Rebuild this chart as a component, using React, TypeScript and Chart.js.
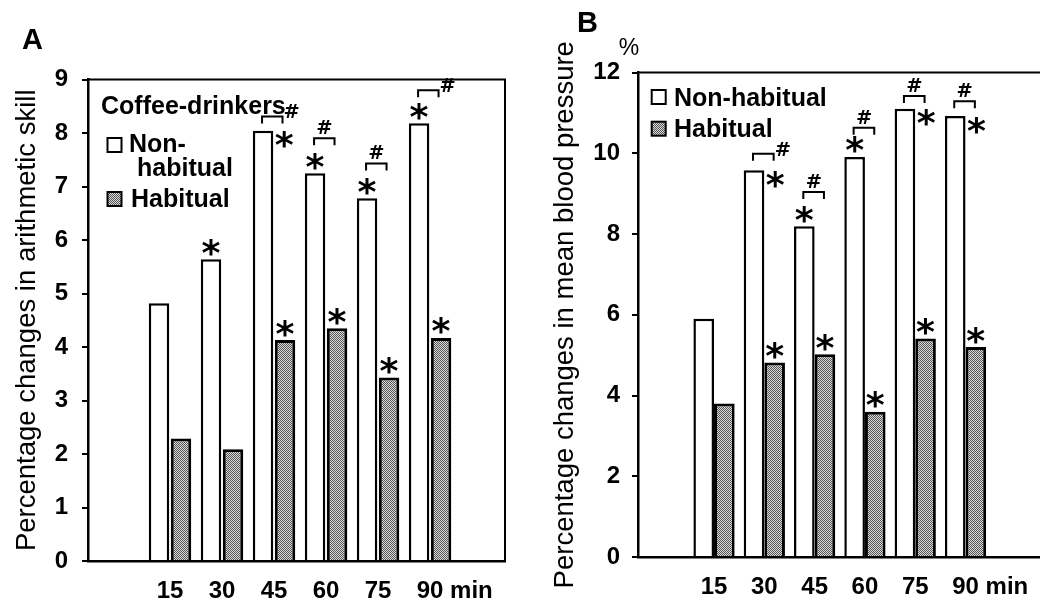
import React, { useEffect, useRef } from 'react';
import { Chart, registerables } from 'chart.js';

Chart.register(...registerables);

const FONT = '"Liberation Sans", Arial, Helvetica, sans-serif';
const STAR_FONT = '"DejaVu Sans", "Liberation Sans", sans-serif';
const TICK_SIZE = 24;

// ---------- data ----------
const minutes = [15, 30, 45, 60, 75, 90];
const xUnit = 'min';
const seriesNames = ['Non-habitual', 'Habitual'];
const legendTitleA = 'Coffee-drinkers';

const skillTitle = 'Percentage changes in arithmetic skill';
const skillNonHabitual = [4.82, 5.64, 8.04, 7.25, 6.78, 8.18];
const skillHabitual = [2.29, 2.09, 4.13, 4.35, 3.43, 4.17];
const skillTicks = [0, 1, 2, 3, 4, 5, 6, 7, 8, 9];
const skillStarsNon = ['', 'top', 'right', 'top', 'top', 'top'];
const skillStarsHab = ['', '', 'top', 'top', 'top', 'top'];
const skillBracketLevel: (number | null)[] = [null, null, 8.31, 7.9, 7.43, 8.8];
const skillHashPos = ['', '', 'right', 'top', 'top', 'right'];

const pressureTitle = 'Percentage changes in mean blood pressure';
const pressureNonHabitual = [5.9, 9.58, 8.19, 9.91, 11.1, 10.92];
const pressureHabitual = [3.8, 4.82, 5.02, 3.6, 5.41, 5.2];
const pressureTicks = [0, 2, 4, 6, 8, 10, 12];
const pressureStarsNon = ['', 'right', 'top', 'top', 'right', 'right'];
const pressureStarsHab = ['', 'top', 'top', 'top', 'top', 'top'];
const pressureBracketLevel: (number | null)[] = [null, 9.99, 9.04, 10.63, 11.42, 11.29];
const pressureHashPos = ['', 'right', 'top', 'top', 'top', 'top'];

// ---------- panel layout ----------
interface Panel {
  letter: string;
  letterX: number;
  letterY: number;
  yTitle: string;
  yMax: number;
  yTicks: number[];
  xMin: number;
  xMax: number;
  non: number[];
  hab: number[];
  starsNon: string[];
  starsHab: string[];
  bracket: (number | null)[];
  hash: string[];
  chartTop: number;
  padRight: number;
  yAxisWidth: number;
  xAxisHeight: number;
  yTitlePad: number;
  yTickPad: number;
  xTickPad: number;
  catPct: number;
  barPct: number;
  frameRight: boolean;
  percent: boolean;
  legend: { title: string | null; titleX: number; titleY: number; sqX: number; sqNonY: number; sqHabY: number; nonLines: { t: string; x: number; y: number }[]; habX: number; habY: number };
}

const panelA: Panel = {
  letter: 'A', letterX: 22, letterY: 38.5,
  yTitle: skillTitle, yMax: 9, yTicks: skillTicks,
  xMin: -8.65, xMax: 111.6,
  non: skillNonHabitual, hab: skillHabitual,
  starsNon: skillStarsNon, starsHab: skillStarsHab,
  bracket: skillBracketLevel, hash: skillHashPos,
  chartTop: 79.5, padRight: 15, yAxisWidth: 88, xAxisHeight: 40,
  yTitlePad: 11, yTickPad: 14, xTickPad: 16.2,
  catPct: 0.846, barPct: 0.93, frameRight: true, percent: false,
  legend: {
    title: legendTitleA, titleX: 101, titleY: 105,
    sqX: 107.5, sqNonY: 138, sqHabY: 192,
    nonLines: [{ t: 'Non-', x: 129, y: 143 }, { t: 'habitual', x: 137, y: 167 }],
    habX: 131, habY: 198,
  },
};

const panelB: Panel = {
  letter: 'B', letterX: 57, letterY: 22,
  yTitle: pressureTitle, yMax: 12, yTicks: pressureTicks,
  xMin: -7.67, xMax: 112.2,
  non: pressureNonHabitual, hab: pressureHabitual,
  starsNon: pressureStarsNon, starsHab: pressureStarsHab,
  bracket: pressureBracketLevel, hash: pressureHashPos,
  chartTop: 72.5, padRight: 0, yAxisWidth: 118, xAxisHeight: 44,
  yTitlePad: 29, yTickPad: 12, xTickPad: 16.2,
  catPct: 0.82, barPct: 1.0, frameRight: false, percent: true,
  legend: {
    title: null, titleX: 0, titleY: 0,
    sqX: 131.7, sqNonY: 90, sqHabY: 121.7,
    nonLines: [{ t: seriesNames[0], x: 154, y: 96.7 }],
    habX: 154, habY: 128.3,
  },
};

// ---------- helpers ----------
function makePattern(): CanvasPattern | string {
  const pc = document.createElement('canvas');
  pc.width = 2;
  pc.height = 2;
  const c = pc.getContext('2d');
  if (!c) return '#999999';
  c.fillStyle = '#dadada';
  c.fillRect(0, 0, 2, 2);
  c.fillStyle = '#555555';
  c.fillRect(0, 0, 1, 1);
  c.fillRect(1, 1, 1, 1);
  const pat = c.createPattern(pc, 'repeat');
  return pat || '#999999';
}

function capText(ctx: CanvasRenderingContext2D, text: string, x: number, capCenterY: number, size: number, weight: string, align: CanvasTextAlign = 'left') {
  ctx.font = `${weight} ${size}px ${FONT}`;
  ctx.textAlign = align;
  ctx.textBaseline = 'alphabetic';
  ctx.fillText(text, x, capCenterY + 0.358 * size);
}

function glyph(ctx: CanvasRenderingContext2D, ch: string, cx: number, cy: number, targetH: number, weight: string, family: string) {
  ctx.font = `${weight} 100px ${family}`;
  const m = ctx.measureText(ch);
  const h = m.actualBoundingBoxAscent + m.actualBoundingBoxDescent;
  const size = h > 0 ? (100 * targetH) / h : targetH;
  ctx.font = `${weight} ${size}px ${family}`;
  const m2 = ctx.measureText(ch);
  ctx.textAlign = 'left';
  ctx.textBaseline = 'alphabetic';
  const x = cx - (m2.actualBoundingBoxRight - m2.actualBoundingBoxLeft) / 2;
  const y = cy + (m2.actualBoundingBoxAscent - m2.actualBoundingBoxDescent) / 2;
  ctx.fillText(ch, x, y);
}

function annotationPlugin(p: Panel, pattern: CanvasPattern | string) {
  return {
    id: 'annot' + p.letter,
    afterDraw(chart: any) {
      const ctx: CanvasRenderingContext2D = chart.ctx;
      const area = chart.chartArea;
      const ys = chart.scales.y;
      const xs = chart.scales.x;
      ctx.save();
      ctx.strokeStyle = '#000';
      ctx.fillStyle = '#000';
      ctx.lineWidth = 2;
      ctx.lineCap = 'butt';

      // frame
      ctx.beginPath();
      ctx.moveTo(area.left, area.top);
      ctx.lineTo(area.right, area.top);
      if (p.frameRight) ctx.lineTo(area.right, area.bottom);
      ctx.stroke();

      // significance marks
      const metaNon = chart.getDatasetMeta(0);
      const metaHab = chart.getDatasetMeta(1);
      for (let i = 0; i < minutes.length; i++) {
        const wb: any = metaNon.data[i];
        const gb: any = metaHab.data[i];
        if (!wb || !gb) continue;
        if (p.starsNon[i] === 'top') glyph(ctx, '*', wb.x, wb.y - 12, 17, 'bold', STAR_FONT);
        if (p.starsNon[i] === 'right') glyph(ctx, '*', wb.x + wb.width / 2 + 11, wb.y + 9, 17, 'bold', STAR_FONT);
        if (p.starsHab[i] === 'top') glyph(ctx, '*', gb.x, gb.y - 12, 17, 'bold', STAR_FONT);
        const lvl = p.bracket[i];
        if (lvl !== null && lvl !== undefined) {
          const by = ys.getPixelForValue(lvl);
          const x1 = wb.x - 1;
          const x2 = x1 + wb.width;
          ctx.lineWidth = 2;
          ctx.beginPath();
          ctx.moveTo(x1, by + 7);
          ctx.lineTo(x1, by);
          ctx.lineTo(x2, by);
          ctx.lineTo(x2, by + 7);
          ctx.stroke();
          if (p.hash[i] === 'top') glyph(ctx, '#', (x1 + x2) / 2, by - 11, 14, 'bold', STAR_FONT);
          if (p.hash[i] === 'right') glyph(ctx, '#', x2 + 9, by - 5, 14, 'bold', STAR_FONT);
        }
      }

      // x unit
      const last = minutes[minutes.length - 1];
      const lx = xs.getPixelForValue(last);
      ctx.font = `bold ${TICK_SIZE}px ${FONT}`;
      const half = ctx.measureText(String(last)).width / 2;
      const sp = ctx.measureText(' ').width;
      ctx.textAlign = 'left';
      ctx.textBaseline = 'middle';
      ctx.fillText(xUnit, lx + half + sp, xs.top + p.xTickPad + (TICK_SIZE * 1.2) / 2);

      // panel letter
      capText(ctx, p.letter, p.letterX, p.letterY, 29, 'bold');
      if (p.percent) capText(ctx, '%', 109, 46.5, 23, 'normal', 'center');

      // legend
      const L = p.legend;
      if (L.title) capText(ctx, L.title, L.titleX, L.titleY, 25, 'bold');
      ctx.lineWidth = 2;
      ctx.fillStyle = '#fff';
      ctx.fillRect(L.sqX, L.sqNonY, 14, 14);
      ctx.strokeRect(L.sqX, L.sqNonY, 14, 14);
      ctx.fillStyle = pattern as any;
      ctx.fillRect(L.sqX, L.sqHabY, 14, 14);
      ctx.strokeRect(L.sqX, L.sqHabY, 14, 14);
      ctx.fillStyle = '#000';
      L.nonLines.forEach((ln) => capText(ctx, ln.t, ln.x, ln.y, 25, 'bold'));
      capText(ctx, seriesNames[1], L.habX, L.habY, 25, 'bold');
      ctx.restore();
    },
  };
}

function buildConfig(p: Panel, pattern: CanvasPattern | string): any {
  const tickFont = { family: FONT, size: TICK_SIZE, weight: 'bold' as const };
  return {
    type: 'bar',
    data: {
      labels: minutes,
      datasets: [
        {
          label: seriesNames[0],
          data: p.non,
          backgroundColor: '#ffffff',
          borderColor: '#000000',
          borderWidth: 2.5,
          categoryPercentage: p.catPct,
          barPercentage: p.barPct,
        },
        {
          label: seriesNames[1],
          data: p.hab,
          backgroundColor: pattern,
          borderColor: '#000000',
          borderWidth: 3,
          categoryPercentage: p.catPct,
          barPercentage: p.barPct,
        },
      ],
    },
    options: {
      responsive: false,
      animation: false,
      devicePixelRatio: 1,
      events: [],
      layout: { padding: { left: 0, top: p.chartTop, right: p.padRight, bottom: 0 } },
      plugins: {
        legend: { display: false },
        tooltip: { enabled: false },
        title: { display: false },
      },
      scales: {
        x: {
          type: 'linear',
          offset: false,
          min: p.xMin,
          max: p.xMax,
          grid: { display: false, drawTicks: false, offset: false },
          border: { display: true, color: '#000', width: 2.5 },
          ticks: {
            font: tickFont,
            color: '#000',
            padding: p.xTickPad,
            autoSkip: false,
            maxRotation: 0,
            callback: (v: any) => String(v),
          },
          afterBuildTicks: (s: any) => {
            s.ticks = minutes.map((v) => ({ value: v }));
          },
          afterFit: (s: any) => {
            s.height = p.xAxisHeight;
          },
        },
        y: {
          type: 'linear',
          min: 0,
          max: p.yMax,
          grid: { drawOnChartArea: false, drawTicks: true, tickLength: 6, color: '#000', lineWidth: 2 },
          border: { display: true, color: '#000', width: 2.5 },
          ticks: { font: tickFont, color: '#000', padding: p.yTickPad, autoSkip: false },
          afterBuildTicks: (s: any) => {
            s.ticks = p.yTicks.map((v) => ({ value: v }));
          },
          afterFit: (s: any) => {
            s.width = p.yAxisWidth;
          },
          title: {
            display: true,
            text: p.yTitle,
            color: '#000',
            font: { family: FONT, size: 27.5, weight: 'normal' },
            padding: { top: p.yTitlePad, bottom: 0 },
          },
        },
      },
    },
    plugins: [annotationPlugin(p, pattern)],
  };
}

export default function App() {
  const refA = useRef<HTMLCanvasElement>(null);
  const refB = useRef<HTMLCanvasElement>(null);
  useEffect(() => {
    const pattern = makePattern();
    const charts: Chart[] = [];
    if (refA.current) charts.push(new Chart(refA.current, buildConfig(panelA, pattern)));
    if (refB.current) charts.push(new Chart(refB.current, buildConfig(panelB, pattern)));
    return () => charts.forEach((c) => c.destroy());
  }, []);
  return (
    <div style={{ position: 'absolute', left: 0, top: 0, width: 1040, height: 601, background: '#fff', overflow: 'hidden' }}>
      <canvas ref={refA} width={520} height={601} style={{ position: 'absolute', left: 0, top: 0, width: 520, height: 601 }} />
      <canvas ref={refB} width={520} height={601} style={{ position: 'absolute', left: 520, top: 0, width: 520, height: 601 }} />
    </div>
  );
}
